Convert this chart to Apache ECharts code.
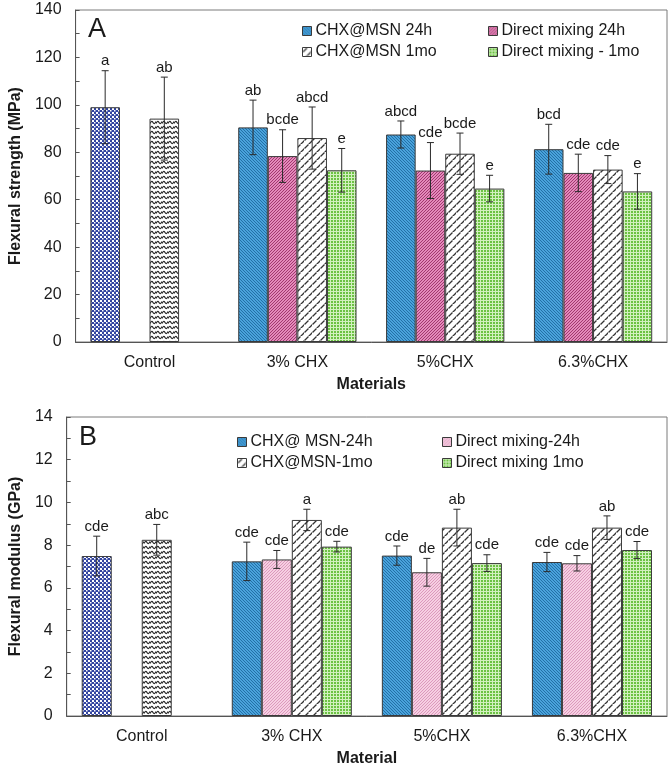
<!DOCTYPE html>
<html><head><meta charset="utf-8">
<script src="https://cdn.jsdelivr.net/npm/echarts@6/dist/echarts.min.js"></script>
<style>html,body{margin:0;padding:0;background:#fff}#c{width:670px;height:769px}</style>
</head><body><div id="c"></div>
<script>
// ---------- DATA ----------
const categories = ['Control', '3% CHX', '5%CHX', '6.3%CHX'];
const yTicksA = [0, 20, 40, 60, 80, 100, 120, 140];
const yTicksB = [0, 2, 4, 6, 8, 10, 12, 14];

// Panel A: flexural strength (MPa)
const namesA = ['CHX@MSN 24h', 'Direct mixing 24h', 'CHX@MSN 1mo', 'Direct mixing - 1mo'];
const meanA_msn24 = [99.0, 90.5, 87.5, 81.3];
const meanA_dm24 = [null, 78.4, 72.3, 71.3];
const meanA_msn1mo = [94.2, 86.0, 79.4, 72.7];
const meanA_dm1mo = [null, 72.4, 64.7, 63.5];
const sdA_msn24 = [15.4, 11.5, 5.7, 10.5];
const sdA_dm24 = [null, 11.1, 11.8, 7.9];
const sdA_msn1mo = [17.5, 13.1, 8.7, 5.9];
const sdA_dm1mo = [null, 9.2, 5.6, 7.5];
const lblA_msn24 = ['a', 'ab', 'abcd', 'bcd'];
const lblA_dm24 = [null, 'bcde', 'cde', 'cde'];
const lblA_msn1mo = ['ab', 'abcd', 'bcde', 'cde'];
const lblA_dm1mo = [null, 'e', 'e', 'e'];

// Panel B: flexural modulus (GPa)
const namesB = ['CHX@ MSN-24h', 'Direct mixing-24h', 'CHX@MSN-1mo', 'Direct mixing 1mo'];
const meanB_msn24 = [7.49, 7.24, 7.51, 7.21];
const meanB_dm24 = [null, 7.33, 6.73, 7.15];
const meanB_msn1mo = [8.25, 9.18, 8.82, 8.82];
const meanB_dm1mo = [null, 7.93, 7.16, 7.77];
const sdB_msn24 = [0.93, 0.90, 0.45, 0.45];
const sdB_dm24 = [null, 0.42, 0.65, 0.36];
const sdB_msn1mo = [0.72, 0.50, 0.86, 0.55];
const sdB_dm1mo = [null, 0.25, 0.39, 0.40];
const lblB_msn24 = ['cde', 'cde', 'cde', 'cde'];
const lblB_dm24 = [null, 'cde', 'de', 'cde'];
const lblB_msn1mo = ['abc', 'a', 'ab', 'ab'];
const lblB_dm1mo = [null, 'cde', 'cde', 'cde'];

// ---------- PATTERNS ----------
function pat(w, h, draw) {
  const c = document.createElement('canvas'); c.width = w; c.height = h;
  const g = c.getContext('2d'); draw(g, w, h);
  return { image: c, repeat: 'repeat' };
}
function hatch(bg, fg, s, dir, lw) {
  return pat(s, s, (g) => {
    g.fillStyle = bg; g.fillRect(0, 0, s, s);
    g.strokeStyle = fg; g.lineWidth = lw;
    g.beginPath();
    for (let k = -1; k <= 1; k++) {
      if (dir > 0) { g.moveTo(k * s, s); g.lineTo(k * s + s, 0); }
      else { g.moveTo(k * s, 0); g.lineTo(k * s + s, s); }
    }
    g.stroke();
  });
}
const pBlue = hatch('#4aa3dc', '#1f6aa0', 3, -1, 0.9);
const pPinkA = hatch('#e48abb', '#9a2f66', 3, 1, 0.9);
const pPinkB = hatch('#f6cfe2', '#d68ab2', 3, 1, 0.8);
const pGreen = pat(3, 3, (g) => {
  g.fillStyle = '#d2f0bf'; g.fillRect(0, 0, 3, 3);
  g.fillStyle = '#6cc243'; g.fillRect(1, 1, 2, 2);
});
const pDash = pat(8, 8, (g) => {
  g.fillStyle = '#ffffff'; g.fillRect(0, 0, 8, 8);
  g.strokeStyle = '#333'; g.lineWidth = 1.3;
  g.beginPath();
  g.moveTo(0.5, 4.5); g.lineTo(4.5, 0.5);
  g.moveTo(4.5, 8.5); g.lineTo(8.5, 4.5);
  g.stroke();
});
const pCheck = pat(4, 4, (g) => {
  g.fillStyle = '#3244a0'; g.fillRect(0, 0, 4, 4);
  g.fillStyle = '#ffffff'; g.fillRect(0, 0, 2, 2); g.fillRect(2, 2, 1.5, 1.5);
});
const pWave = pat(6, 5, (g) => {
  g.fillStyle = '#ffffff'; g.fillRect(0, 0, 6, 5);
  g.strokeStyle = '#2a2a2a'; g.lineWidth = 1.2;
  g.beginPath();
  g.moveTo(0, 3.5); g.quadraticCurveTo(1.5, 0, 3, 2.5); g.quadraticCurveTo(4.5, 5, 6, 1.5);
  g.stroke();
});

const FONT = "'Liberation Sans', Arial, sans-serif";
const BORDER = '#3a3a3a';

function barSeries(name, vals, color, gi, ctrlColor) {
  return {
    type: 'bar', name: name, xAxisIndex: gi, yAxisIndex: gi,
    barGap: '0%', barCategoryGap: '20%',
    itemStyle: { color: color, borderColor: BORDER, borderWidth: 1 },
    data: vals.map((v, i) => (i === 0 && v != null && ctrlColor) ? { value: v, itemStyle: { color: ctrlColor } } : v)
  };
}

function errSeries(gi, means, sds, lbls) {
  const data = [];
  means.forEach((arr, slot) => arr.forEach((m, ci) => {
    if (m != null) data.push([ci, m, sds[slot][ci], slot, lbls[slot][ci]]);
  }));
  return {
    type: 'custom', xAxisIndex: gi, yAxisIndex: gi, z: 10, silent: true,
    encode: { x: 0, y: 1 },
    data: data,
    renderItem: function (params, api) {
      const ci = api.value(0), m = api.value(1), sd = api.value(2), slot = api.value(3);
      const lbl = data[params.dataIndex][4];
      const band = api.size([1, 0])[0];
      const bw = band * 0.2;
      const c = api.coord([ci, m]);
      const x = c[0] + (slot - 1.5) * bw;
      const yt = api.coord([ci, m + sd])[1];
      const yb = api.coord([ci, m - sd])[1];
      const st = { stroke: '#2a2a2a', lineWidth: 1 };
      const cap = 3.5;
      return {
        type: 'group', children: [
          { type: 'line', shape: { x1: x, y1: yt, x2: x, y2: yb }, style: st },
          { type: 'line', shape: { x1: x - cap, y1: yt, x2: x + cap, y2: yt }, style: st },
          { type: 'line', shape: { x1: x - cap, y1: yb, x2: x + cap, y2: yb }, style: st },
          { type: 'text', style: { text: lbl, x: x, y: yt - 2, textAlign: 'center', textVerticalAlign: 'bottom', font: '15px ' + FONT, fill: '#1a1a1a' } }
        ]
      };
    }
  };
}

function xAxis(gi, name, nameGap) {
  return {
    type: 'category', gridIndex: gi, data: categories,
    name: name, nameLocation: 'middle', nameGap: nameGap,
    nameTextStyle: { fontFamily: FONT, fontSize: 16, fontWeight: 'bold', color: '#1a1a1a' },
    axisLine: { lineStyle: { color: '#555', width: 1 } },
    axisTick: { show: false },
    axisLabel: { fontFamily: FONT, fontSize: 16, color: '#1a1a1a', margin: 13 },
    splitLine: { show: false }
  };
}
function yAxis(gi, ticks, name, nameGap) {
  return {
    type: 'value', gridIndex: gi, min: ticks[0], max: ticks[ticks.length - 1],
    interval: ticks[1] - ticks[0],
    name: name, nameLocation: 'middle', nameGap: nameGap,
    nameTextStyle: { fontFamily: FONT, fontSize: 16, fontWeight: 'bold', color: '#1a1a1a' },
    axisLine: { show: true, lineStyle: { color: '#555', width: 1 } },
    axisTick: { show: true, inside: true, length: 4, lineStyle: { color: '#555' } },
    minorTick: { show: true, splitNumber: 2, length: 4, lineStyle: { color: '#555' } },
    axisLabel: { fontFamily: FONT, fontSize: 16, color: '#1a1a1a', margin: 14 },
    splitLine: { show: false }
  };
}
function legend(names, left, top) {
  return {
    data: names, left: left, top: top, orient: 'vertical',
    itemWidth: 9, itemHeight: 9, itemGap: 5, selectedMode: false,
    icon: 'rect',
    textStyle: { fontFamily: FONT, fontSize: 16, color: '#1a1a1a', padding: [0, 0, 0, -1] },
    itemStyle: { borderColor: BORDER, borderWidth: 1 }
  };
}

const chart = echarts.init(document.getElementById('c'), null, { renderer: 'canvas' });
chart.setOption({
  animation: false,
  backgroundColor: '#fff',
  title: [
    { text: 'A', left: 83, top: 11, textStyle: { fontFamily: FONT, fontSize: 27, fontWeight: 'normal', color: '#1a1a1a' } },
    { text: 'B', left: 74, top: 419, textStyle: { fontFamily: FONT, fontSize: 27, fontWeight: 'normal', color: '#1a1a1a' } }
  ],
  grid: [
    { left: 68, right: 3, top: 10, bottom: 427, show: true, borderColor: '#7a7a7a', borderWidth: 1 },
    { left: 65, right: 3, top: 417, bottom: 53, show: true, borderColor: '#7a7a7a', borderWidth: 1 }
  ],
  legend: [
    legend([namesA[0], namesA[2]], 297, 18),
    legend([namesA[1], namesA[3]], 483, 18),
    legend([namesB[0], namesB[2]], 232, 429),
    legend([namesB[1], namesB[3]], 437, 429)
  ],
  xAxis: [xAxis(0, 'Materials', 35), xAxis(1, 'Material', 35)],
  yAxis: [yAxis(0, yTicksA, 'Flexural strength (MPa)', 49), yAxis(1, yTicksB, 'Flexural modulus (GPa)', 38)],
  series: [
    barSeries(namesA[0], meanA_msn24, pBlue, 0, pCheck),
    barSeries(namesA[1], meanA_dm24, pPinkA, 0),
    barSeries(namesA[2], meanA_msn1mo, pDash, 0, pWave),
    barSeries(namesA[3], meanA_dm1mo, pGreen, 0),
    errSeries(0, [meanA_msn24, meanA_dm24, meanA_msn1mo, meanA_dm1mo], [sdA_msn24, sdA_dm24, sdA_msn1mo, sdA_dm1mo], [lblA_msn24, lblA_dm24, lblA_msn1mo, lblA_dm1mo]),
    barSeries(namesB[0], meanB_msn24, pBlue, 1, pCheck),
    barSeries(namesB[1], meanB_dm24, pPinkB, 1),
    barSeries(namesB[2], meanB_msn1mo, pDash, 1, pWave),
    barSeries(namesB[3], meanB_dm1mo, pGreen, 1),
    errSeries(1, [meanB_msn24, meanB_dm24, meanB_msn1mo, meanB_dm1mo], [sdB_msn24, sdB_dm24, sdB_msn1mo, sdB_dm1mo], [lblB_msn24, lblB_dm24, lblB_msn1mo, lblB_dm1mo])
  ]
});
</script></body></html>
